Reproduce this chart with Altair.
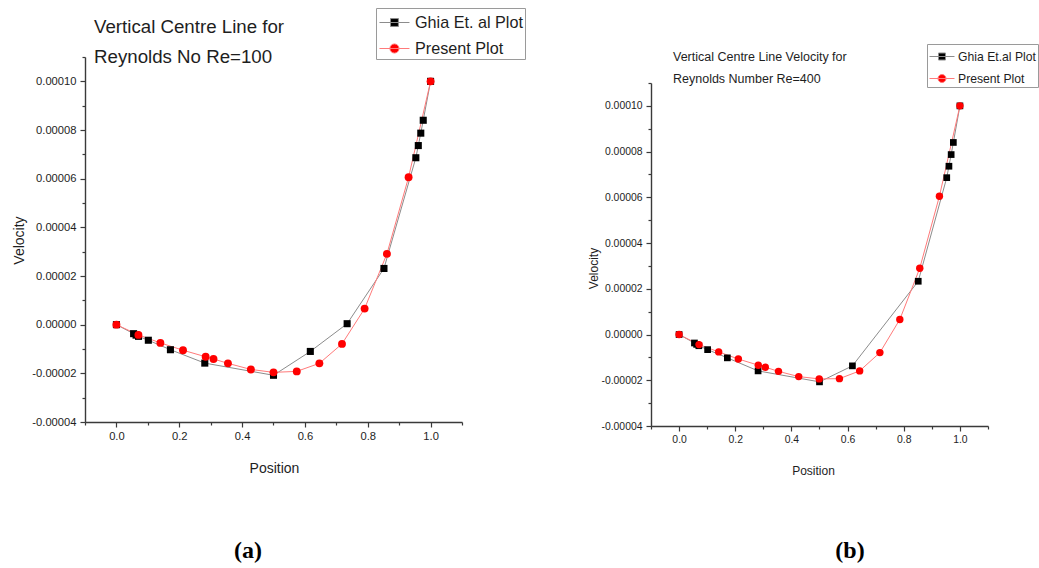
import altair as alt
import pandas as pd

# ---------------- data ----------------
# (a) Re = 100
ghia_a_pos = [0.0, 0.0547, 0.0625, 0.0703, 0.1016, 0.1719, 0.2813, 0.5, 0.6172, 0.7344,
              0.8516, 0.9531, 0.9609, 0.9688, 0.9766, 1.0]
ghia_a_vel = [0.0, -0.37e-5, -0.43e-5, -0.48e-5, -0.64e-5, -1.03e-5, -1.58e-5, -2.08e-5, -1.10e-5,
              0.04e-5, 2.31e-5, 6.86e-5, 7.36e-5, 7.87e-5, 8.40e-5, 10.0e-5]
pres_a_pos = [0.0, 0.070, 0.140, 0.212, 0.284, 0.309, 0.355, 0.428, 0.500, 0.574, 0.646,
              0.718, 0.790, 0.861, 0.930, 1.0]
pres_a_vel = [0.0, -0.42e-5, -0.75e-5, -1.05e-5, -1.32e-5, -1.41e-5, -1.59e-5, -1.84e-5, -1.96e-5,
              -1.92e-5, -1.59e-5, -0.79e-5, 0.66e-5, 2.91e-5, 6.06e-5, 10.0e-5]

# (b) Re = 400
ghia_b_pos = [0.0, 0.0547, 0.0625, 0.0703, 0.1016, 0.1719, 0.2813, 0.5, 0.6172,
              0.8516, 0.9531, 0.9609, 0.9688, 0.9766, 1.0]
ghia_b_vel = [0.0, -0.37e-5, -0.43e-5, -0.49e-5, -0.66e-5, -1.02e-5, -1.59e-5, -2.07e-5, -1.37e-5,
              2.33e-5, 6.86e-5, 7.36e-5, 7.87e-5, 8.40e-5, 10.0e-5]
pres_b_pos = [0.0, 0.071, 0.141, 0.211, 0.282, 0.307, 0.354, 0.426, 0.499, 0.571, 0.643,
              0.715, 0.786, 0.857, 0.927, 1.0]
pres_b_vel = [0.0, -0.44e-5, -0.76e-5, -1.07e-5, -1.34e-5, -1.43e-5, -1.61e-5, -1.84e-5, -1.94e-5,
              -1.93e-5, -1.59e-5, -0.79e-5, 0.66e-5, 2.90e-5, 6.05e-5, 10.0e-5]

x_ticks = [-0.1, 0.0, 0.1, 0.2, 0.3, 0.4, 0.5, 0.6, 0.7, 0.8, 0.9, 1.0, 1.1]
y_ticks = [-4e-5, -3e-5, -2e-5, -1e-5, 0.0, 1e-5, 2e-5, 3e-5, 4e-5, 5e-5, 6e-5, 7e-5, 8e-5,
           9e-5, 10e-5, 11e-5]

series_a = ["Ghia Et. al Plot", "Present Plot"]
series_b = ["Ghia Et.al Plot", "Present Plot"]

NARROW = "Liberation Sans Narrow, Liberation Sans, Arial, sans-serif"
SERIF = "Liberation Serif, Times New Roman, serif"
AXIS_COL = "#3a3a3a"
TEXT_COL = "#1e1e1e"
GHIA_LINE = "#8c8c8c"
PRES_LINE = "#ff7a7a"


def panel(ghia_pos, ghia_vel, pres_pos, pres_vel, names, width, height, s):
    ghia = pd.DataFrame({"Position": ghia_pos, "Velocity": ghia_vel, "Series": names[0]})
    pres = pd.DataFrame({"Position": pres_pos, "Velocity": pres_vel, "Series": names[1]})
    both = pd.concat([ghia.iloc[[0]], pres.iloc[[0]]], ignore_index=True)

    x_enc = alt.X(
        "Position:Q",
        scale=alt.Scale(domain=[-0.1, 1.1], nice=False, zero=False),
        axis=alt.Axis(
            values=x_ticks,
            labelExpr="abs(round(datum.value*10)) % 2 == 1 ? '' : format(datum.value, '.1f')",
            tickSize={"condition": {"test": "abs(round(datum.value*10)) % 2 == 1", "value": 3}, "value": 5},
            title="Position", titleX=s["xtx"], titleY=s["xty"], titleBaseline="middle",
            titleAlign="center", titleFont=NARROW, titleFontSize=s["title_fs"],
            titleFontWeight="normal", titleColor=TEXT_COL,
            labelFont=NARROW, labelFontSize=s["tick_fs"], labelColor=TEXT_COL,
            labelPadding=3, labelOverlap=False, labelFlush=False,
            domainColor=AXIS_COL, domainWidth=1.4, tickColor=AXIS_COL, tickWidth=1.2,
            grid=False,
        ),
    )
    y_enc = alt.Y(
        "Velocity:Q",
        scale=alt.Scale(domain=[-4e-5, 11e-5], nice=False, zero=False),
        axis=alt.Axis(
            values=y_ticks,
            labelExpr="abs(round(datum.value*1e5)) % 2 == 1 ? '' : replace(format(datum.value, '.5f'), '\u2212', '-')",
            tickSize={"condition": {"test": "abs(round(datum.value*1e5)) % 2 == 1", "value": 3}, "value": 5},
            title="Velocity", titleX=s["ytx"], titleY=s["yty"], titleBaseline="middle",
            titleAlign="center", titleFont=NARROW, titleFontSize=s["title_fs"],
            titleFontWeight="normal", titleColor=TEXT_COL,
            labelFont=NARROW, labelFontSize=s["tick_fs"], labelColor=TEXT_COL,
            labelPadding=4, labelOverlap=False, labelFlush=False,
            domainColor=AXIS_COL, domainWidth=1.4, tickColor=AXIS_COL, tickWidth=1.2,
            grid=False,
        ),
    )

    ghia_line = alt.Chart(ghia).mark_line(color=GHIA_LINE, strokeWidth=1).encode(x=x_enc, y=y_enc)
    pres_line = alt.Chart(pres).mark_line(color=PRES_LINE, strokeWidth=1).encode(x=x_enc, y=y_enc)
    ghia_pts = alt.Chart(ghia).mark_square(color="black", size=s["sq"], opacity=1).encode(x=x_enc, y=y_enc)
    pres_pts = alt.Chart(pres).mark_circle(color="#ff0000", size=s["ci"], opacity=1).encode(x=x_enc, y=y_enc)

    legend = alt.Legend(
        title=None, orient="none", legendX=s["lx"], legendY=s["ly"],
        labelFont=NARROW, labelFontSize=s["leg_fs"], labelColor=TEXT_COL,
        labelOffset=s["lab_off"], symbolSize=s["sym_size"], symbolOpacity=1,
        symbolStrokeWidth=1, rowPadding=s["row_pad"], padding=s["leg_pad"],
        strokeColor="#9a9a9a", fillColor="white",
    )
    leg_layer = alt.Chart(both).mark_point(filled=True, opacity=0, strokeWidth=1).encode(
        x=x_enc, y=y_enc,
        shape=alt.Shape("Series:N", scale=alt.Scale(domain=names, range=s["paths"]), legend=legend),
        fill=alt.Fill("Series:N", scale=alt.Scale(domain=names, range=["black", "#ff0000"]), legend=legend),
        stroke=alt.Stroke("Series:N", scale=alt.Scale(domain=names, range=[GHIA_LINE, PRES_LINE]), legend=legend),
    )

    t1 = alt.Chart(both.iloc[[0]]).mark_text(
        text=s["title"][0], align="left", baseline="middle", font=NARROW,
        fontSize=s["head_fs"], color=TEXT_COL,
    ).encode(x=alt.value(s["tx"]), y=alt.value(s["ty"][0]))
    t2 = alt.Chart(both.iloc[[0]]).mark_text(
        text=s["title"][1], align="left", baseline="middle", font=NARROW,
        fontSize=s["head_fs"], color=TEXT_COL,
    ).encode(x=alt.value(s["tx"]), y=alt.value(s["ty"][1]))
    tag = alt.Chart(both.iloc[[0]]).mark_text(
        text=s["tag"], align="center", baseline="middle", font=SERIF,
        fontSize=24, fontWeight="bold", color="black",
    ).encode(x=alt.value(s["tagx"]), y=alt.value(s["tagy"]))

    return alt.layer(ghia_line, pres_line, ghia_pts, pres_pts, leg_layer, t1, t2, tag).properties(
        width=width, height=height
    )


path_sq_a = "M-0.92,0H1.58M0.0,-0.33H0.66V0.33H0.0Z"
path_ci_a = "M-0.92,0H1.58M0.71,0A0.38,0.38,0,1,1,-0.05,0A0.38,0.38,0,1,1,0.71,0Z"
path_sq_b = "M-1.0,0H1.5M-0.1,-0.35H0.6V0.35H-0.1Z"
path_ci_b = "M-1.0,0H1.5M0.65,0A0.4,0.4,0,1,1,-0.15,0A0.4,0.4,0,1,1,0.65,0Z"

left = panel(
    ghia_a_pos, ghia_a_vel, pres_a_pos, pres_a_vel, series_a, 377, 365,
    dict(xtx=189, xty=46, ytx=-66, yty=183, title_fs=14, tick_fs=11.2,
         sq=50, ci=62, lx=291, ly=-49, leg_fs=16.2, lab_off=12, sym_size=576,
         row_pad=5, leg_pad=2,
         paths=[path_sq_a, path_ci_a],
         title=["Vertical Centre Line for", "Reynolds No Re=100"], head_fs=18.7,
         tx=9, ty=[-30, 0], tag="(a)", tagx=163, tagy=494),
)
right = panel(
    ghia_b_pos, ghia_b_vel, pres_b_pos, pres_b_vel, series_b, 337, 343,
    dict(xtx=162, xty=44, ytx=-58, yty=185, title_fs=12, tick_fs=10.4,
         sq=45, ci=55, lx=276, ly=-13, leg_fs=12.2, lab_off=8, sym_size=400,
         row_pad=5, leg_pad=2,
         paths=[path_sq_b, path_ci_b],
         title=["Vertical Centre Line Velocity for", "Reynolds Number Re=400"], head_fs=12.5,
         tx=22, ty=[-26, -4], tag="(b)", tagx=199, tagy=468),
)

spacer = alt.Chart(pd.DataFrame({"a": [0]})).mark_point(opacity=0).properties(width=337, height=26)
right_col = alt.vconcat(spacer, right, spacing=0, bounds="flush")

chart = alt.hconcat(left, right_col, spacing=189, bounds="flush").resolve_scale(
    shape="independent", fill="independent", stroke="independent"
).properties(
    padding={"left": 12, "top": 7, "right": 0, "bottom": 0},
    background="white",
).configure_view(stroke=None)

chart.save("out.html", embed_options={"renderer": "svg", "actions": False})
